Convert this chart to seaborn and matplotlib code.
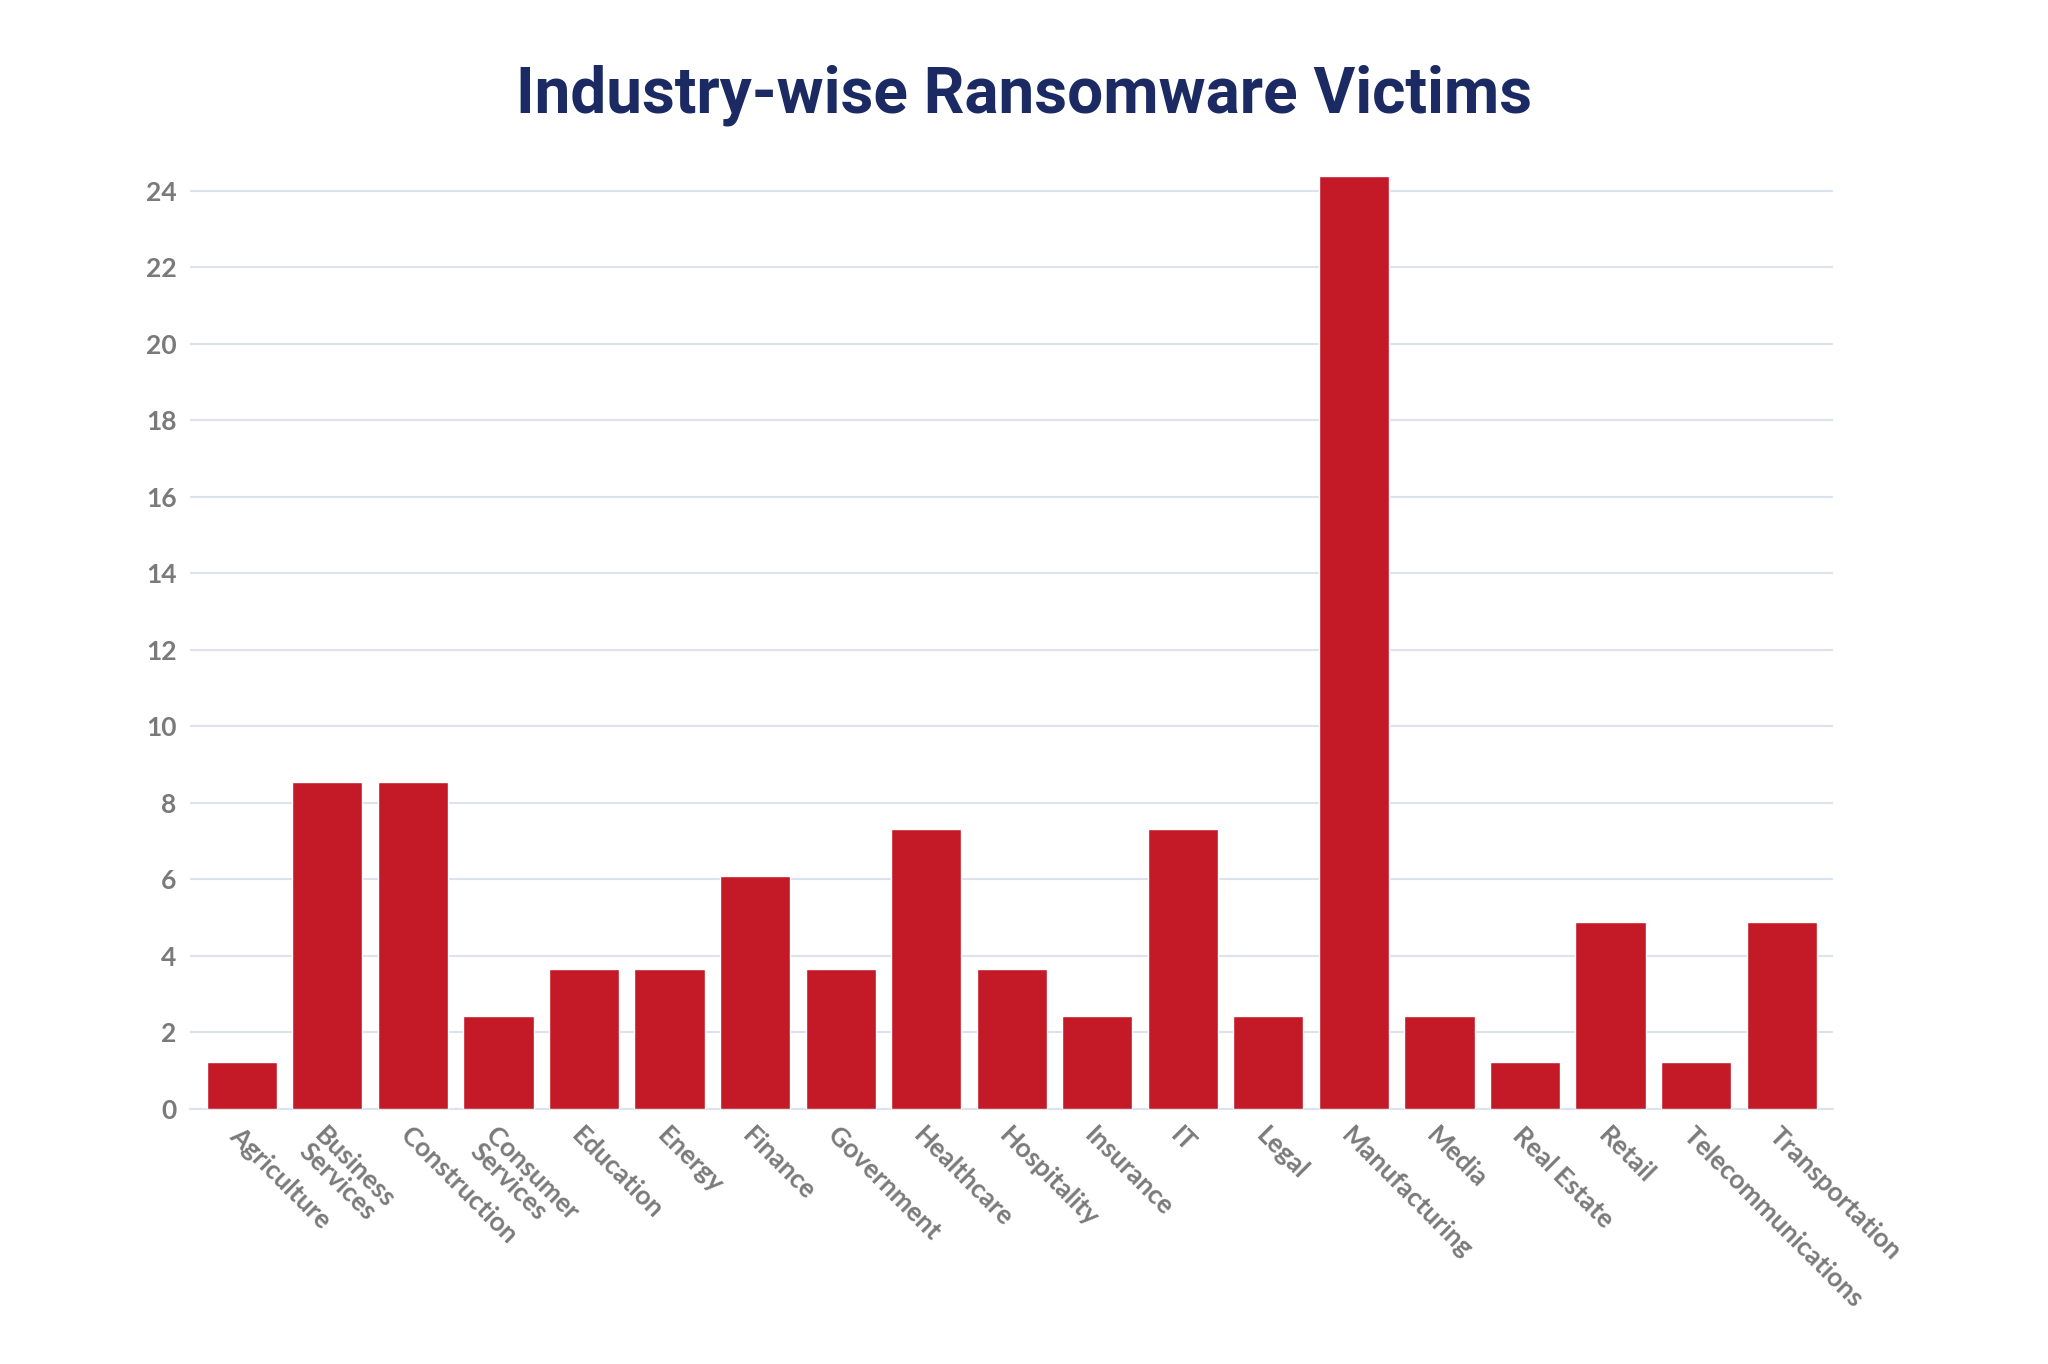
import matplotlib
matplotlib.use("Agg")
import matplotlib.pyplot as plt
import seaborn as sns
import pandas as pd

industries = ["Agriculture", "Business\nServices", "Construction", "Consumer\nServices", "Education",
              "Energy", "Finance", "Government", "Healthcare", "Hospitality", "Insurance", "IT",
              "Legal", "Manufacturing", "Media", "Real Estate", "Retail", "Telecommunications",
              "Transportation"]
victims = [1.22, 8.54, 8.54, 2.44, 3.66, 3.66, 6.1, 3.66, 7.32, 3.66, 2.44, 7.32,
           2.44, 24.39, 2.44, 1.22, 4.88, 1.22, 4.88]
y_ticks = list(range(0, 25, 2))

df = pd.DataFrame({"industry": industries, "victims": victims})

sns.set_theme(style="white", font="Lato")
fig = plt.figure(figsize=(20.48, 13.64), dpi=100)
ax = fig.add_axes([0.093, 0.187, 0.802, 0.69])

sns.barplot(data=df, x="industry", y="victims", color="#c41a27", saturation=1,
            width=0.82, ax=ax, zorder=3)

ax.set_ylim(0, 24.6)
ax.set_yticks(y_ticks)
ax.yaxis.grid(True, color="#dde3ec", linewidth=1.5, zorder=0)
ax.set_xlim(-0.6, len(industries) - 0.4)
for s in ["top", "right", "left"]:
    ax.spines[s].set_visible(False)
ax.spines["bottom"].set_color("#dde3ec")
ax.spines["bottom"].set_linewidth(1.5)
ax.set_xlabel("")
ax.set_ylabel("")
ax.tick_params(axis="both", length=0, labelsize=19, labelcolor="#7a7a7a", pad=10)
for t in ax.get_yticklabels():
    t.set_fontweight("bold")
ax.set_xticks(range(len(industries)))
ax.set_xticklabels(industries, rotation=-45, ha="left", rotation_mode="anchor",
                   fontweight="bold", linespacing=0.9)

fig.text(0.5, 0.93, "Industry-wise Ransomware Victims", ha="center", va="center",
         fontsize=46, fontweight="bold", color="#1c2a63", family="Roboto")

fig.savefig("out.png", dpi=100, facecolor="white")
